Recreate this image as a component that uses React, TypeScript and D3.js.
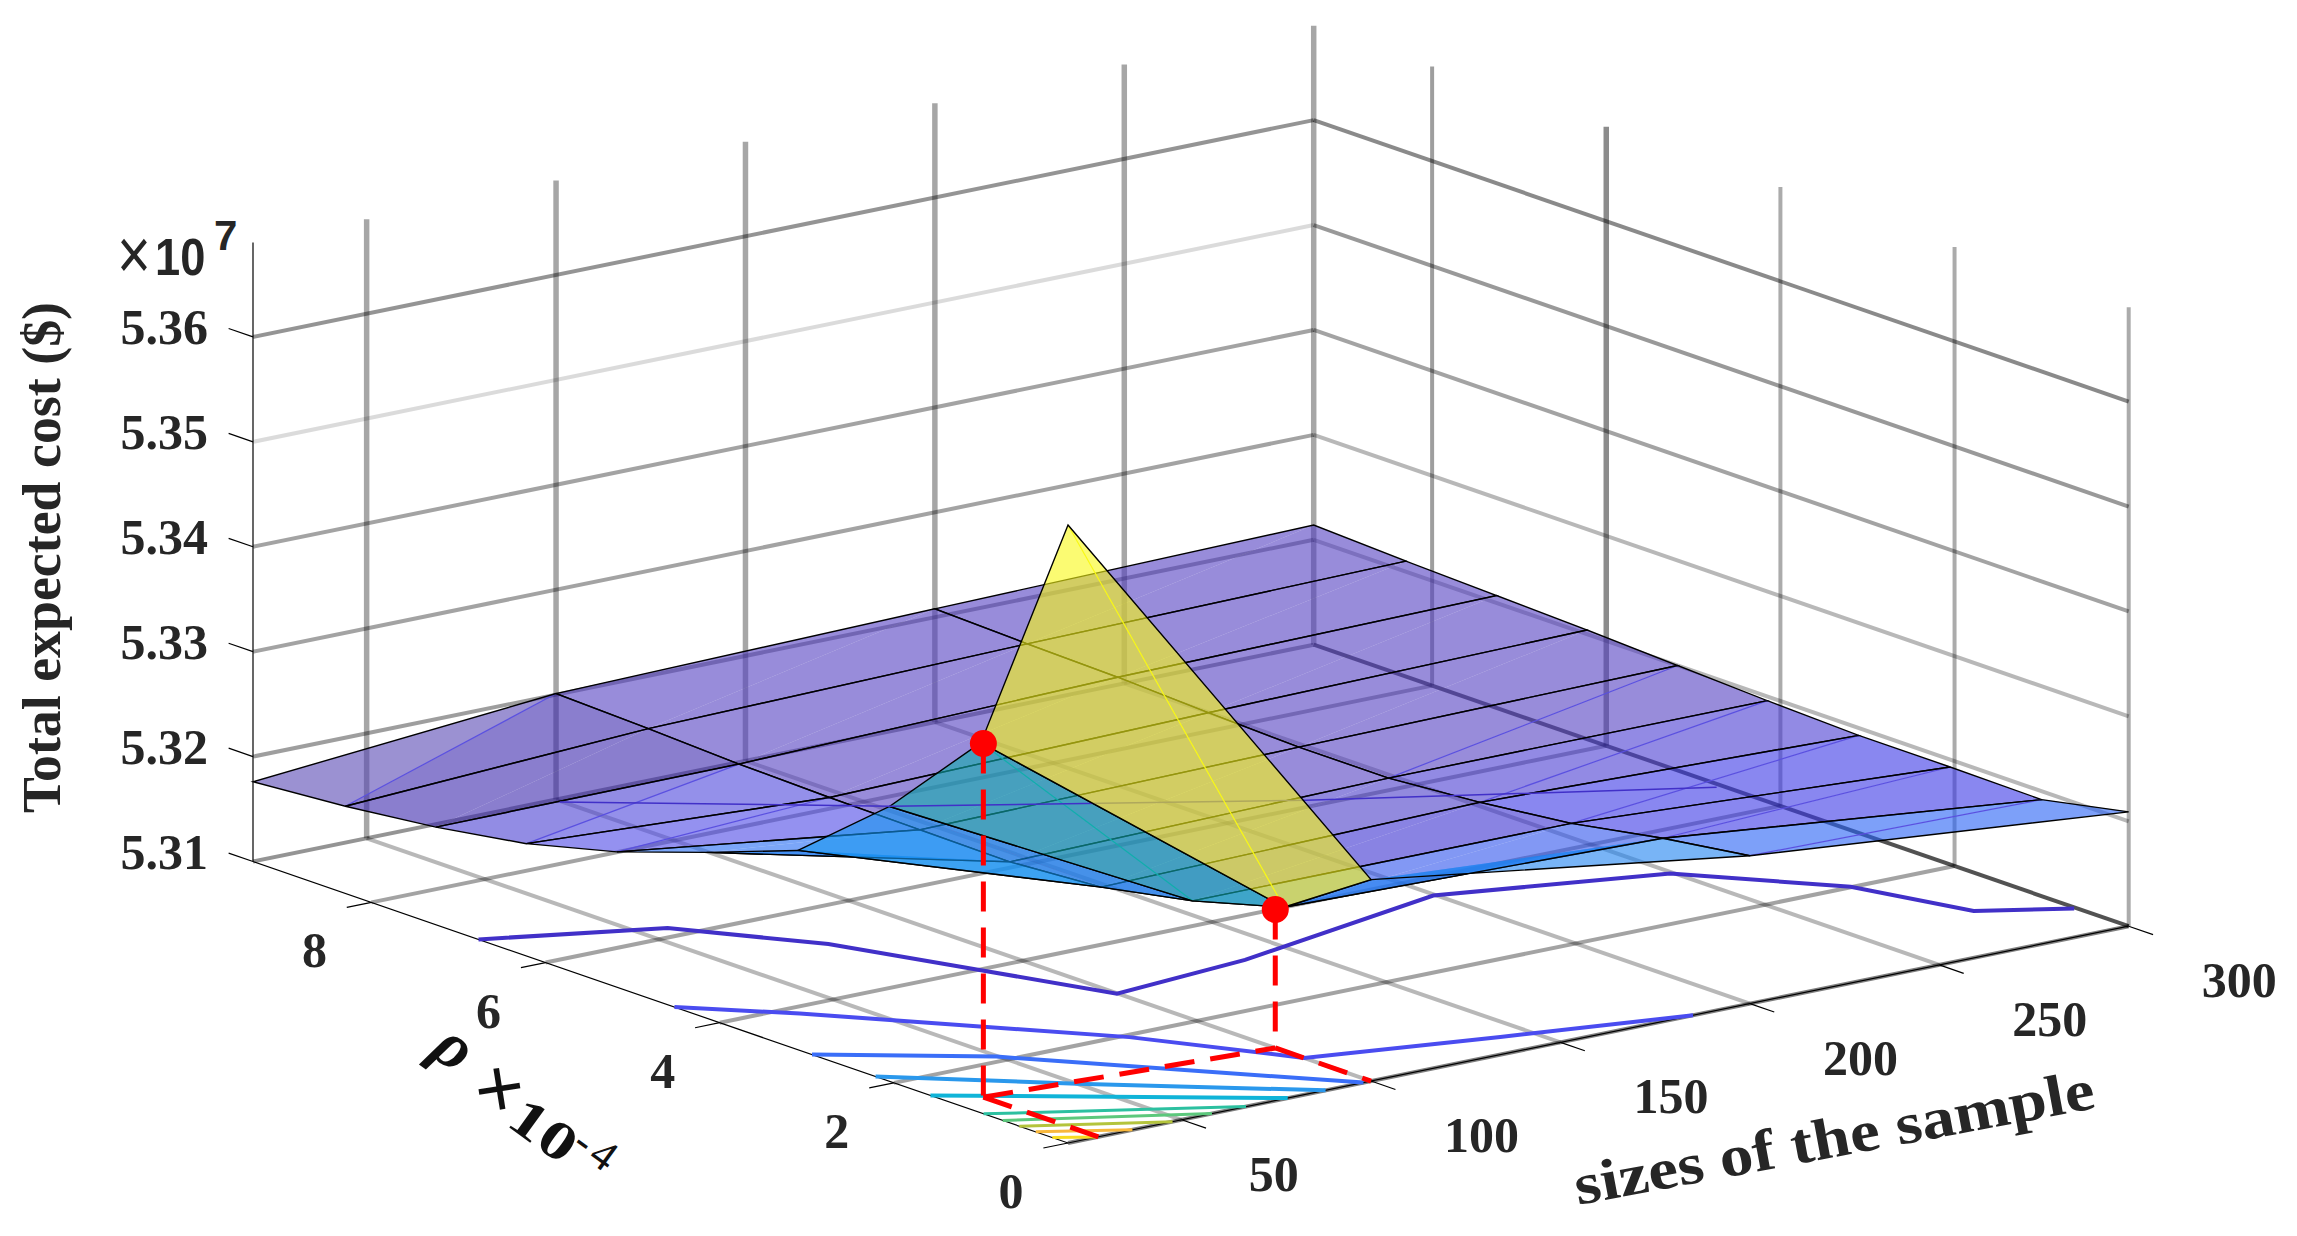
import * as d3 from 'd3';

const sizes = [20, 100, 200, 300];
const rhos = [0, 1, 2.05, 3.1, 4.15, 5.18, 6.22, 7.26, 8.3, 9.36];
// total cost (x 10^7) per sample size, one value per rho
const costAt20 = [5.3689, 5.3453, 5.3362, 5.329, 5.3258, 5.3229, 5.3207, 5.3193, 5.3183, 5.3176];
const costAt100 = [5.3292, 5.3237, 5.3213, 5.3196, 5.319, 5.3191, 5.3192, 5.3194, 5.3198, 5.3201];
const costAt200 = [5.3241, 5.3229, 5.3213, 5.3203, 5.3196, 5.3196, 5.3199, 5.3203, 5.3205, 5.3208];
const costAt300 = [5.3209, 5.3192, 5.3193, 5.3193, 5.3196, 5.32, 5.3204, 5.3207, 5.321, 5.3214];
const costs = [costAt20, costAt100, costAt200, costAt300];

const sizeTicks = [50, 100, 150, 200, 250, 300];
const rhoTicks = [0, 2, 4, 6, 8];
const costTicks = [5.31, 5.32, 5.33, 5.34, 5.35, 5.36];
const costTickLabels = ['5.31', '5.32', '5.33', '5.34', '5.35', '5.36'];

// contour lines on the floor, [size, rho]
const contour1 = [[20, 6.77], [56.8, 6.2], [75.8, 5.18], [88.5, 3.98], [99.8, 2.91], [137.3, 3.07], [199.4, 3.61], [249.3, 3.06], [272.8, 2.01], [281.6, 0.98], [299.4, 0.6]];
const contour2 = [[20, 4.52], [37.7, 3.85], [81, 1.95], [100, 0.77], [142.6, 0.37], [185, 0]];
const contour3 = [[20, 2.94], [49.6, 2.11], [98, 0]];
const contour4 = [[20, 2.21], [50, 1.2], [88, 0]];
const contour5 = [[20, 1.58], [78, 0]];
const contour6 = [[20, 0.97], [67, 0]];
const contour7 = [[20, 0.75], [58, 0]];
const contour8 = [[20, 0.56], [47.6, 0]];
const contour9 = [[20, 0.37], [37, 0]];
const contour10 = [[20, 0.18], [27.6, 0]];
const contours = [contour1, contour2, contour3, contour4, contour5, contour6, contour7, contour8, contour9, contour10];
const contourColors = ['#4130c8', '#4a4cf0', '#3a6ef8', '#2a98ec', '#10b4d8', '#2cc0a0', '#5cc87c', '#b4c43c', '#f8b83c', '#f8dc20'];
const contourWidths = [4, 4, 4, 4, 4, 3, 3, 3, 3, 3];

// the 5.32 level traced on the surface itself
const surfaceLevel = [[49, 7.1], [102, 5.6], [173.6, 3.95], [248, 2.47]];

const redPoints = [[28, 1.32, 5.3437], [100, 1.1, 5.3232]];

const colorLevels = [5.3215, 5.323, 5.3241, 5.3292, 5.3362, 5.3453, 5.36, 5.369];
const colorValues = ['#533fc1', '#4040dc', '#2660f5', '#1e82f0', '#1496f0', '#10aeac', '#f0be32', '#f9fa14'];

// faces whose shade does not follow the colour scale
const toneOverrides: Record<string, string> = {
  '0-8-u': '#5848b4', '0-8-l': '#3c28ad', '0-7-u': '#3c28ad', '0-7-l': '#3c28ad',
  '0-6-u': '#4a40d2', '0-6-l': '#4c46dc', '0-5-u': '#4c48e6', '0-5-l': '#4c48e6',
  '2-1-u': '#3a37e6', '2-1-l': '#3a37e6', '2-2-u': '#3a37e6', '2-2-l': '#3a37e6',
  '2-3-u': '#4a3cd2', '2-3-l': '#4a3cd2', '1-2-u': '#3a30d0', '1-2-l': '#3a30d0',
  '1-3-u': '#4a3cc8', '1-3-l': '#4a3cc8',
};
const diagonalFaces = ['0-0', '0-1', '0-5', '0-6', '0-8', '2-0', '2-1', '2-2', '2-3', '2-4'];

const originX = 1068;
const originY = 1143;
const sizeX = d3.scaleLinear().domain([20, 300]).range([0, 1060.7]);
const sizeY = d3.scaleLinear().domain([20, 300]).range([0, -216.8]);
const rhoX = d3.scaleLinear().domain([0, 9.36]).range([0, -815]);
const rhoY = d3.scaleLinear().domain([0, 9.36]).range([0, -281.5]);
const costY = d3.scaleLinear().domain([5.31, 5.369]).range([0, -619]);
const faceColor = d3.scaleLinear<string>().domain(colorLevels).range(colorValues).clamp(true);

const project = (size: number, rho: number, cost = 5.31): [number, number] => [
  originX + sizeX(size) + rhoX(rho),
  originY + sizeY(size) + rhoY(rho) + costY(cost),
];

const line = d3.line();
const seg = (pts: number[][]) => line(pts.map((p) => project(p[0], p[1], p[2]))) ?? '';

const sizeMin = 20, sizeMax = 300, rhoMax = 9.36, costMax = 5.369;

const leftWallOpacity = [0.42, 0.38, 0.36, 0.36, 0.14, 0.42];
const rightWallOpacity = [0.68, 0.28, 0.28, 0.36, 0.4, 0.46];

type Quad = { i: number; j: number; depth: number };
const quads: Quad[] = [];
for (let i = 0; i < sizes.length - 1; i++) {
  for (let j = 0; j < rhos.length - 1; j++) {
    quads.push({ i, j, depth: (sizes[i] + sizes[i + 1]) / 2 / sizeMax + (rhos[j] + rhos[j + 1]) / 2 / rhoMax });
  }
}
quads.sort((a, b) => b.depth - a.depth);
const isPeak = (q: Quad) => q.i === 0 && q.j === 0;

const FONT = '"Liberation Serif", serif';
const INK = '#262626';

function Surface({ faces }: { faces: Quad[] }) {
  return (
    <g>
      {faces.map(({ i, j }) => {
        const a = [sizes[i], rhos[j], costs[i][j]];
        const b = [sizes[i + 1], rhos[j], costs[i + 1][j]];
        const c = [sizes[i + 1], rhos[j + 1], costs[i + 1][j + 1]];
        const d = [sizes[i], rhos[j + 1], costs[i][j + 1]];
        const key = `${i}-${j}`;
        const lower = toneOverrides[`${key}-l`] ?? faceColor(Math.max(a[2], b[2], c[2]));
        const upper = toneOverrides[`${key}-u`] ?? faceColor(Math.max(a[2], c[2], d[2]));
        const diagonal = i === 0 && j < 2 ? lower : '#5a50e0';
        return (
          <g key={key}>
            <path d={seg([a, b, c]) + 'Z'} fill={lower} fillOpacity={0.6} />
            <path d={seg([a, c, d]) + 'Z'} fill={upper} fillOpacity={0.6} />
            {diagonalFaces.includes(key) && <path d={seg([a, c])} fill="none" stroke={diagonal} strokeWidth={1.2} />}
            <path d={seg([a, b, c, d]) + 'Z'} fill="none" stroke="#000" strokeWidth={1.4} />
          </g>
        );
      })}
    </g>
  );
}

function Grid() {
  return (
    <g fill="none" stroke="#000">
      {costTicks.map((t, k) => (
        <g key={t} strokeWidth={4}>
          {k > 0 && <path d={seg([[sizeMin, rhoMax, t], [sizeMax, rhoMax, t]])} strokeOpacity={leftWallOpacity[k]} />}
          {k > 0 && <path d={seg([[sizeMax, rhoMax, t], [sizeMax, 0, t]])} strokeOpacity={rightWallOpacity[k]} />}
        </g>
      ))}
      <path d={seg([[sizeMin, rhoMax], [sizeMax, rhoMax]])} strokeWidth={4} strokeOpacity={0.42} />
      {sizeTicks.map((t) => (
        <path key={t} d={seg([[t, rhoMax, 5.31], [t, rhoMax, costMax]])} strokeWidth={5.5} strokeOpacity={0.35} />
      ))}
      {rhoTicks.map((t) => (
        <path key={t} d={seg([[sizeMax, t, 5.31], [sizeMax, t, costMax]])} strokeWidth={t === 6 ? 5.5 : 4} strokeOpacity={t === 6 ? 0.45 : t === 8 ? 0.38 : 0.33} />
      ))}
      {sizeTicks.map((t) => (
        <path key={t} d={seg([[t, 0], [t, rhoMax]])} strokeWidth={4} strokeOpacity={t === 300 ? 0.68 : 0.28} />
      ))}
      {rhoTicks.map((t) => (
        <path key={t} d={seg([[sizeMin, t], [sizeMax, t]])} strokeWidth={4} strokeOpacity={t === 0 ? 0.5 : 0.36} />
      ))}
    </g>
  );
}

function Axes() {
  return (
    <g fill="none" stroke="#000" strokeWidth={1.2}>
      <path d={seg([[sizeMin, rhoMax, 5.31], [sizeMin, rhoMax, costMax]])} />
      <path d={seg([[sizeMin, rhoMax], [sizeMin, 0], [sizeMax, 0]])} />
      {costTicks.map((t) => (
        <path key={t} d={seg([[sizeMin, rhoMax, t], [sizeMin, rhoMax + 0.28, t]])} />
      ))}
      {sizeTicks.map((t) => (
        <path key={t} d={seg([[t, 0], [t, -0.28]])} />
      ))}
      {rhoTicks.map((t) => (
        <path key={t} d={seg([[sizeMin, t], [sizeMin - 6.5, t]])} />
      ))}
    </g>
  );
}

function Labels() {
  return (
    <g fontFamily={FONT} fontWeight="bold" fontSize={50} fill={INK}>
      {costTicks.map((t, k) => {
        const [x, y] = project(sizeMin, rhoMax, t);
        return (
          <text key={t} x={x - 45} y={y + 7} textAnchor="end">{costTickLabels[k]}</text>
        );
      })}
      {sizeTicks.map((t) => {
        const [x, y] = project(t, 0);
        return (
          <text key={t} x={x + (t === 50 ? 67 : 73)} y={y + 71}>{t}</text>
        );
      })}
      {rhoTicks.map((t) => {
        const [x, y] = project(sizeMin, t);
        return (
          <text key={t} x={x - 57} y={y + 65} textAnchor="middle">{t}</text>
        );
      })}
      <text
        transform="translate(60,813) rotate(-90)"
        fontSize={54}
        textLength={511}
        lengthAdjust="spacingAndGlyphs"
      >Total expected cost ($)</text>
      <text transform="translate(1578,1205) rotate(-10.6)" fontSize={58} textLength={528} lengthAdjust="spacingAndGlyphs">sizes of the sample</text>
      <g transform="translate(517,1133) rotate(36)" fill="#111">
        <text x={-118} y={-12} fontSize={66} fontStyle="italic">ρ</text>
        <text x={-40} y={1} fontSize={80} textAnchor="middle">×</text>
        <text transform="translate(-15,0) scale(1.3,1)" fontSize={54}>10</text>
        <text y={-19} fontSize={44} fontWeight="normal">
          <tspan x={52}>-</tspan>
          <tspan x={72}>4</tspan>
        </text>
      </g>
      <g fontFamily='"Liberation Sans", sans-serif'>
        <text transform="translate(117,279) scale(1,1.25)" fontWeight="normal" fontSize={58}>×</text>
        <text transform="translate(155,275) scale(0.87,1)" fontSize={52}>10</text>
        <text x={214} y={250} fontSize={42}>7</text>
      </g>
    </g>
  );
}

function RedGuides() {
  const [first, second] = redPoints;
  return (
    <g>
      <g fill="none" stroke="#ff0000" strokeWidth={5} strokeDasharray="30 16">
        <path d={seg([[first[0], first[1], first[2]], [first[0], first[1]]])} />
        <path d={seg([[second[0], second[1], second[2]], [second[0], second[1]]])} />
        <path d={seg([[first[0], first[1]], [second[0], second[1]]])} />
        <path d={seg([[first[0], first[1]], [first[0], 0]])} />
        <path d={seg([[second[0], second[1]], [second[0], 0]])} />
      </g>
      {redPoints.map((p) => {
        const [x, y] = project(p[0], p[1], p[2]);
        return <circle key={p[0]} cx={x} cy={y} r={13.5} fill="#ff0000" />;
      })}
    </g>
  );
}

export default function App() {
  return (
    <svg width={2297} height={1236} style={{ position: 'absolute', left: 0, top: 0, background: '#fff' }}>
      <Grid />
      <Axes />
      <g fill="none">
        {contours.map((c, k) => (
          <path key={k} d={seg(c)} stroke={contourColors[k]} strokeWidth={contourWidths[k]} />
        ))}
      </g>
      <Surface faces={quads.filter((q) => !isPeak(q))} />
      <path d={seg(surfaceLevel.map((p) => [p[0], p[1], 5.32]))} fill="none" stroke="#4130c8" strokeWidth={1.5} />
      <Surface faces={quads.filter(isPeak)} />
      <RedGuides />
      <Labels />
    </svg>
  );
}
